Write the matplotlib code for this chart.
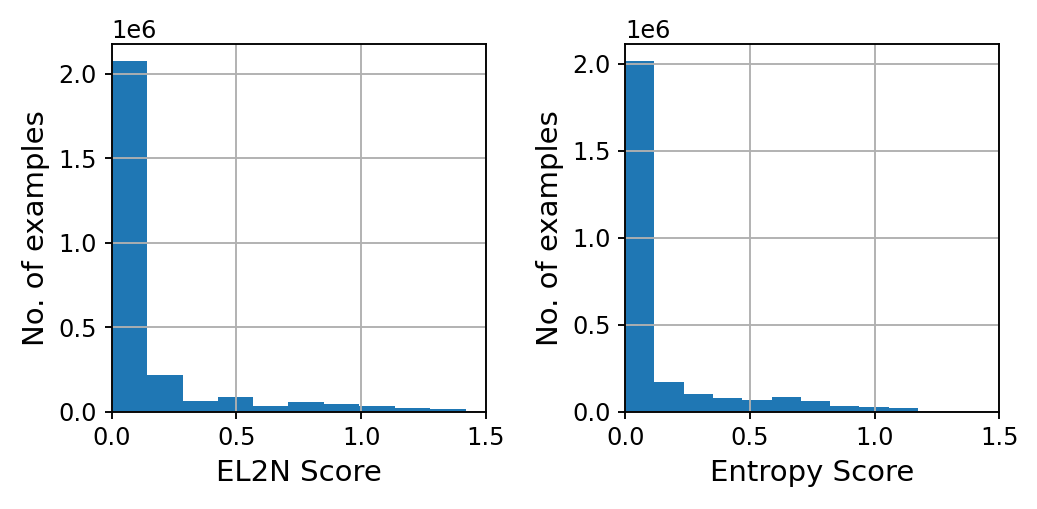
import numpy as np
import matplotlib
matplotlib.use("Agg")
import matplotlib.pyplot as plt

# bin edges and counts
el2n_edges = [0.0, 0.142, 0.284, 0.426, 0.568, 0.709, 0.851, 0.993, 1.135, 1.277, 1.419]
el2n_counts = [2.073e6, 0.218e6, 0.066e6, 0.084e6, 0.033e6, 0.058e6, 0.046e6, 0.033e6, 0.021e6, 0.013e6]

entropy_edges = [0.0, 0.117, 0.235, 0.352, 0.470, 0.587, 0.704, 0.822, 0.939, 1.057, 1.174]
entropy_counts = [2.013e6, 0.170e6, 0.100e6, 0.080e6, 0.069e6, 0.086e6, 0.063e6, 0.034e6, 0.029e6, 0.023e6]

x_ticks = [0.0, 0.5, 1.0, 1.5]

DPI = 150
fig, axes = plt.subplots(1, 2, figsize=(1037 / DPI, 509 / DPI), dpi=DPI)
fig.subplots_adjust(left=0.1077, right=0.9637, top=0.9136, bottom=0.1912, wspace=0.373)

panels = [
    (axes[0], el2n_edges, el2n_counts, "EL2N Score"),
    (axes[1], entropy_edges, entropy_counts, "Entropy Score"),
]

for ax, edges, counts, label in panels:
    ax.hist(edges[:-1], bins=edges, weights=counts, color="#1f77b4")
    ax.set_xlim(0, 1.5)
    ax.set_xticks(x_ticks)
    ax.grid(True, linewidth=0.9)
    ax.set_xlabel(label, fontsize=14)
    ax.set_ylabel("No. of examples", fontsize=14)
    ax.tick_params(labelsize=11.5, width=0.9)
    ax.yaxis.get_offset_text().set_fontsize(11.5)
    for s in ax.spines.values():
        s.set_linewidth(0.9)

fig.savefig("out.png", dpi=DPI)
